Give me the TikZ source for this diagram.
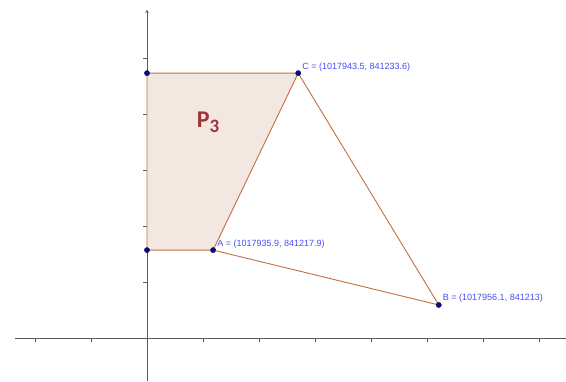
\documentclass[tikz,border=0pt]{standalone}
\usepackage{fontspec}
\setmainfont{Liberation Sans}
\newfontfamily\carlito{Carlito}
\usepackage{tikz}
\usetikzlibrary{arrows.meta}
\definecolor{edge}{HTML}{C0703F}
\definecolor{region}{HTML}{F3E7E2}
\definecolor{ptcol}{HTML}{0A0A8C}
\definecolor{lblcol}{HTML}{4A4AF5}
\definecolor{title}{HTML}{9E3438}
\definecolor{axis}{HTML}{5A5A5A}

\begin{document}
\begin{tikzpicture}[x=56pt,y=56pt,
  edgeline/.style={edge,line width=0.9pt,line join=round},
  dot/.style={circle,fill=ptcol,draw=ptcol!60!black,inner sep=0pt,minimum size=5.2pt},
  coordlbl/.style={lblcol,font=\fontsize{9}{10}\selectfont,anchor=base west,inner sep=0pt,xshift=4pt,yshift=4pt}]
  \useasboundingbox (-2.625,-0.768) rectangle (7.482,6.036);
  % axes
  \coordinate (xl) at (-2.36,0);
  \coordinate (xr) at (7.482,0);
  \coordinate (yb) at (0,-0.768);
  \coordinate (yt) at (0,5.86);
  \draw[axis,line width=0.7pt] (xl) -- (xr);
  \draw[axis,line width=0.7pt,-{Stealth[length=3pt,width=3.5pt]}] (yb) -- (yt);
  \foreach \i in {-2,-1,1,2,3,4,5,6,7}
    \draw[axis,line width=0.6pt] (\i,0) -- (\i,-0.07);
  \foreach \j in {1,...,5}
    \draw[axis,line width=0.6pt] (0,\j) -- (-0.07,\j);
  % region P3
  \coordinate (Q) at (0,4.73);
  \coordinate (C) at (2.70,4.73);
  \coordinate (A) at (1.18,1.57);
  \coordinate (D) at (0,1.57);
  \coordinate (B) at (5.21,0.59);
  \fill[region] (Q) -- (C) -- (A) -- (D) -- cycle;
  \draw[edgeline] (Q) -- (C) -- (A) -- (D) -- cycle;
  \draw[edgeline] (A) -- (B) -- (C);
  \node[title,font=\carlito\bfseries\fontsize{24}{24}\selectfont] (p3) at (1.09,3.86)
    {P\raisebox{-5pt}{\fontsize{19}{19}\selectfont 3}};
  % points and labels
  \foreach \p in {Q,C,A,D,B}
    \node[dot] (dot\p) at (\p) {};
  \node[coordlbl] (lblA) at (A) {A = (1017935.9, 841217.9)};
  \node[coordlbl] (lblB) at (B) {B = (1017956.1, 841213)};
  \node[coordlbl] (lblC) at (C) {C = (1017943.5, 841233.6)};
\end{tikzpicture}
\end{document}
